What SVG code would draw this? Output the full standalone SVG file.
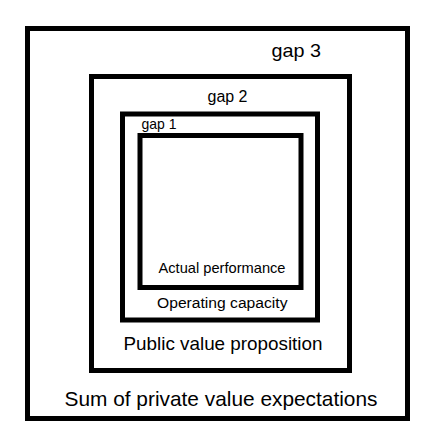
<svg xmlns="http://www.w3.org/2000/svg" width="437" height="433" viewBox="0 0 437 433">
<style>
.box{fill:none;stroke:#000;stroke-width:5}
text{font-family:"Liberation Sans",Arial,sans-serif;fill:#000}
</style>
<rect width="437" height="433" fill="#fff"/>
<g id="outer">
<rect class="box" x="27.5" y="28.5" width="380" height="390"/>
<text x="271.5" y="57" font-size="19" textLength="49.5" lengthAdjust="spacingAndGlyphs">gap 3</text>
<text x="64.5" y="406" font-size="21" textLength="313" lengthAdjust="spacingAndGlyphs">Sum of private value expectations</text>
</g>
<g id="public">
<rect class="box" x="91.5" y="76.5" width="258" height="294"/>
<text x="207.5" y="101.5" font-size="16" textLength="40" lengthAdjust="spacingAndGlyphs">gap 2</text>
<text x="123.5" y="350" font-size="18.5" textLength="199" lengthAdjust="spacingAndGlyphs">Public value proposition</text>
</g>
<g id="operating">
<rect class="box" x="122.5" y="114" width="195" height="206"/>
<text x="141.5" y="129" font-size="14.5" textLength="35" lengthAdjust="spacingAndGlyphs">gap 1</text>
<text x="157" y="307.5" font-size="15.5" textLength="130.5" lengthAdjust="spacingAndGlyphs">Operating capacity</text>
</g>
<g id="actual">
<rect class="box" x="140" y="135.5" width="161" height="152"/>
<text x="158.5" y="273.3" font-size="14.5" textLength="127" lengthAdjust="spacingAndGlyphs">Actual performance</text>
</g>
<g id="connectors"/>
</svg>
